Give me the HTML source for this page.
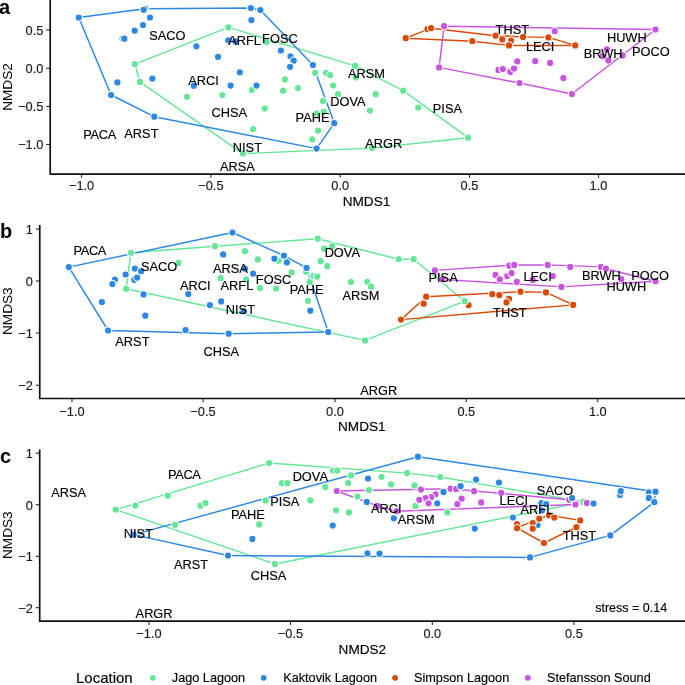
<!DOCTYPE html>
<html><head><meta charset="utf-8"><style>
html,body{margin:0;padding:0;background:#fff;}
svg{display:block;will-change:transform;font-family:"Liberation Sans",sans-serif;font-kerning:normal;text-rendering:optimizeLegibility;}
</style></head><body>
<svg width="685" height="685" viewBox="0 0 685 685">
<rect width="685" height="685" fill="#fff"/>
<line x1="46.2" y1="30.0" x2="50.2" y2="30.0" stroke="#222" stroke-width="1.05"/>
<text x="43.4" y="34.9" font-size="12.8" text-anchor="end" font-weight="normal" fill="#1a1a1a" stroke="#1a1a1a" stroke-width="0.15" >0.5</text>
<line x1="46.2" y1="68.3" x2="50.2" y2="68.3" stroke="#222" stroke-width="1.05"/>
<text x="43.4" y="73.2" font-size="12.8" text-anchor="end" font-weight="normal" fill="#1a1a1a" stroke="#1a1a1a" stroke-width="0.15" >0.0</text>
<line x1="46.2" y1="106.5" x2="50.2" y2="106.5" stroke="#222" stroke-width="1.05"/>
<text x="43.4" y="111.4" font-size="12.8" text-anchor="end" font-weight="normal" fill="#1a1a1a" stroke="#1a1a1a" stroke-width="0.15" >−0.5</text>
<line x1="46.2" y1="144.5" x2="50.2" y2="144.5" stroke="#222" stroke-width="1.05"/>
<text x="43.4" y="149.4" font-size="12.8" text-anchor="end" font-weight="normal" fill="#1a1a1a" stroke="#1a1a1a" stroke-width="0.15" >−1.0</text>
<line x1="81.6" y1="174.15" x2="81.6" y2="177.85" stroke="#222" stroke-width="1.05"/>
<text x="81.6" y="190.3" font-size="12.8" text-anchor="middle" font-weight="normal" fill="#1a1a1a" stroke="#1a1a1a" stroke-width="0.15" >−1.0</text>
<line x1="210.9" y1="174.15" x2="210.9" y2="177.85" stroke="#222" stroke-width="1.05"/>
<text x="210.9" y="190.3" font-size="12.8" text-anchor="middle" font-weight="normal" fill="#1a1a1a" stroke="#1a1a1a" stroke-width="0.15" >−0.5</text>
<line x1="340.2" y1="174.15" x2="340.2" y2="177.85" stroke="#222" stroke-width="1.05"/>
<text x="340.2" y="190.3" font-size="12.8" text-anchor="middle" font-weight="normal" fill="#1a1a1a" stroke="#1a1a1a" stroke-width="0.15" >0.0</text>
<line x1="469.5" y1="174.15" x2="469.5" y2="177.85" stroke="#222" stroke-width="1.05"/>
<text x="469.5" y="190.3" font-size="12.8" text-anchor="middle" font-weight="normal" fill="#1a1a1a" stroke="#1a1a1a" stroke-width="0.15" >0.5</text>
<line x1="598.5" y1="174.15" x2="598.5" y2="177.85" stroke="#222" stroke-width="1.05"/>
<text x="598.5" y="190.3" font-size="12.8" text-anchor="middle" font-weight="normal" fill="#1a1a1a" stroke="#1a1a1a" stroke-width="0.15" >1.0</text>
<path d="M50.2,-1 L50.2,174.15 L686,174.15" fill="none" stroke="#111" stroke-width="1.7" stroke-linejoin="round"/>
<text x="366.5" y="206.0" font-size="13.6" text-anchor="middle" font-weight="normal" fill="#000" stroke="#000" stroke-width="0.15" >NMDS1</text>
<text transform="translate(12.3,87.0) rotate(-90)" font-size="13.6" text-anchor="middle">NMDS2</text>
<text x="-1.0" y="13.7" font-size="20" text-anchor="start" font-weight="bold" fill="#000" >a</text>
<polygon points="134.9,64.2 228.4,27.4 355.0,65.9 403.2,90.7 468.1,137.7 372.0,148.1 242.9,153.6 139.9,81.9" fill="none" stroke="#64e696" stroke-width="1.45" stroke-linejoin="round"/>
<polygon points="78.8,17.5 145.0,8.7 250.9,8.0 260.4,10.0 312.9,65.1 334.3,123.2 316.6,148.6 154.3,116.7 111.1,95.0" fill="none" stroke="#2b87e3" stroke-width="1.45" stroke-linejoin="round"/>
<polygon points="405.7,38.2 431.1,28.2 495.5,35.7 523.1,36.9 548.4,37.4 575.2,45.4 509.0,45.4 472.3,41.2" fill="none" stroke="#d94a06" stroke-width="1.45" stroke-linejoin="round"/>
<polygon points="444.1,26.2 655.5,29.5 571.9,94.0 519.6,83.0 439.1,67.4" fill="none" stroke="#c853e0" stroke-width="1.45" stroke-linejoin="round"/>
<circle cx="134.9" cy="64.2" r="3.65" fill="#64e696" stroke="#fff" stroke-width="1.1"/>
<circle cx="139.9" cy="81.9" r="3.65" fill="#64e696" stroke="#fff" stroke-width="1.1"/>
<circle cx="228.4" cy="27.4" r="3.65" fill="#64e696" stroke="#fff" stroke-width="1.1"/>
<circle cx="266.7" cy="41.9" r="3.65" fill="#64e696" stroke="#fff" stroke-width="1.1"/>
<circle cx="284.9" cy="79.4" r="3.65" fill="#64e696" stroke="#fff" stroke-width="1.1"/>
<circle cx="283.1" cy="90.7" r="3.65" fill="#64e696" stroke="#fff" stroke-width="1.1"/>
<circle cx="298.0" cy="88.1" r="3.65" fill="#64e696" stroke="#fff" stroke-width="1.1"/>
<circle cx="251.8" cy="90.0" r="3.65" fill="#64e696" stroke="#fff" stroke-width="1.1"/>
<circle cx="222.4" cy="95.0" r="3.65" fill="#64e696" stroke="#fff" stroke-width="1.1"/>
<circle cx="187.0" cy="96.8" r="3.65" fill="#64e696" stroke="#fff" stroke-width="1.1"/>
<circle cx="264.8" cy="108.6" r="3.65" fill="#64e696" stroke="#fff" stroke-width="1.1"/>
<circle cx="253.2" cy="129.2" r="3.65" fill="#64e696" stroke="#fff" stroke-width="1.1"/>
<circle cx="315.2" cy="72.8" r="3.65" fill="#64e696" stroke="#fff" stroke-width="1.1"/>
<circle cx="326.1" cy="72.8" r="3.65" fill="#64e696" stroke="#fff" stroke-width="1.1"/>
<circle cx="330.2" cy="75.2" r="3.65" fill="#64e696" stroke="#fff" stroke-width="1.1"/>
<circle cx="355.0" cy="65.9" r="3.65" fill="#64e696" stroke="#fff" stroke-width="1.1"/>
<circle cx="355.9" cy="77.5" r="3.65" fill="#64e696" stroke="#fff" stroke-width="1.1"/>
<circle cx="333.2" cy="85.5" r="3.65" fill="#64e696" stroke="#fff" stroke-width="1.1"/>
<circle cx="338.0" cy="94.0" r="3.65" fill="#64e696" stroke="#fff" stroke-width="1.1"/>
<circle cx="375.7" cy="94.2" r="3.65" fill="#64e696" stroke="#fff" stroke-width="1.1"/>
<circle cx="323.0" cy="101.1" r="3.65" fill="#64e696" stroke="#fff" stroke-width="1.1"/>
<circle cx="370.0" cy="110.6" r="3.65" fill="#64e696" stroke="#fff" stroke-width="1.1"/>
<circle cx="316.8" cy="113.6" r="3.65" fill="#64e696" stroke="#fff" stroke-width="1.1"/>
<circle cx="323.8" cy="111.9" r="3.65" fill="#64e696" stroke="#fff" stroke-width="1.1"/>
<circle cx="318.1" cy="130.6" r="3.65" fill="#64e696" stroke="#fff" stroke-width="1.1"/>
<circle cx="312.3" cy="139.4" r="3.65" fill="#64e696" stroke="#fff" stroke-width="1.1"/>
<circle cx="242.9" cy="153.6" r="3.65" fill="#64e696" stroke="#fff" stroke-width="1.1"/>
<circle cx="403.2" cy="90.7" r="3.65" fill="#64e696" stroke="#fff" stroke-width="1.1"/>
<circle cx="418.2" cy="107.5" r="3.65" fill="#64e696" stroke="#fff" stroke-width="1.1"/>
<circle cx="468.1" cy="137.7" r="3.65" fill="#64e696" stroke="#fff" stroke-width="1.1"/>
<circle cx="372.0" cy="148.1" r="3.65" fill="#64e696" stroke="#fff" stroke-width="1.1"/>
<circle cx="444.1" cy="26.2" r="3.65" fill="#c853e0" stroke="#fff" stroke-width="1.1"/>
<circle cx="439.1" cy="67.4" r="3.65" fill="#c853e0" stroke="#fff" stroke-width="1.1"/>
<circle cx="517.3" cy="61.4" r="3.65" fill="#c853e0" stroke="#fff" stroke-width="1.1"/>
<circle cx="498.5" cy="69.9" r="3.65" fill="#c853e0" stroke="#fff" stroke-width="1.1"/>
<circle cx="502.8" cy="69.1" r="3.65" fill="#c853e0" stroke="#fff" stroke-width="1.1"/>
<circle cx="514.8" cy="67.9" r="3.65" fill="#c853e0" stroke="#fff" stroke-width="1.1"/>
<circle cx="510.3" cy="71.9" r="3.65" fill="#c853e0" stroke="#fff" stroke-width="1.1"/>
<circle cx="519.6" cy="83.0" r="3.65" fill="#c853e0" stroke="#fff" stroke-width="1.1"/>
<circle cx="554.7" cy="31.2" r="3.65" fill="#c853e0" stroke="#fff" stroke-width="1.1"/>
<circle cx="655.5" cy="29.5" r="3.65" fill="#c853e0" stroke="#fff" stroke-width="1.1"/>
<circle cx="606.9" cy="49.4" r="3.65" fill="#c853e0" stroke="#fff" stroke-width="1.1"/>
<circle cx="602.6" cy="56.2" r="3.65" fill="#c853e0" stroke="#fff" stroke-width="1.1"/>
<circle cx="608.4" cy="60.4" r="3.65" fill="#c853e0" stroke="#fff" stroke-width="1.1"/>
<circle cx="622.6" cy="55.4" r="3.65" fill="#c853e0" stroke="#fff" stroke-width="1.1"/>
<circle cx="535.2" cy="61.2" r="3.65" fill="#c853e0" stroke="#fff" stroke-width="1.1"/>
<circle cx="550.2" cy="62.9" r="3.65" fill="#c853e0" stroke="#fff" stroke-width="1.1"/>
<circle cx="514.0" cy="68.6" r="3.65" fill="#c853e0" stroke="#fff" stroke-width="1.1"/>
<circle cx="563.4" cy="78.1" r="3.65" fill="#c853e0" stroke="#fff" stroke-width="1.1"/>
<circle cx="571.9" cy="94.0" r="3.65" fill="#c853e0" stroke="#fff" stroke-width="1.1"/>
<circle cx="78.8" cy="17.5" r="3.65" fill="#2b87e3" stroke="#fff" stroke-width="1.1"/>
<circle cx="145.3" cy="8.6" r="3.65" fill="#2b87e3" stroke="#fff" stroke-width="1.1"/>
<circle cx="143.7" cy="9.8" r="3.65" fill="#2b87e3" stroke="#fff" stroke-width="1.1"/>
<circle cx="150.0" cy="17.5" r="3.65" fill="#2b87e3" stroke="#fff" stroke-width="1.1"/>
<circle cx="143.0" cy="25.1" r="3.65" fill="#2b87e3" stroke="#fff" stroke-width="1.1"/>
<circle cx="134.7" cy="30.7" r="3.65" fill="#2b87e3" stroke="#fff" stroke-width="1.1"/>
<circle cx="122.6" cy="38.5" r="3.65" fill="#2b87e3" stroke="#fff" stroke-width="1.1"/>
<circle cx="124.3" cy="38.7" r="3.65" fill="#2b87e3" stroke="#fff" stroke-width="1.1"/>
<circle cx="117.4" cy="82.4" r="3.65" fill="#2b87e3" stroke="#fff" stroke-width="1.1"/>
<circle cx="152.4" cy="78.6" r="3.65" fill="#2b87e3" stroke="#fff" stroke-width="1.1"/>
<circle cx="196.4" cy="46.3" r="3.65" fill="#2b87e3" stroke="#fff" stroke-width="1.1"/>
<circle cx="218.0" cy="56.8" r="3.65" fill="#2b87e3" stroke="#fff" stroke-width="1.1"/>
<circle cx="228.3" cy="40.3" r="3.65" fill="#2b87e3" stroke="#fff" stroke-width="1.1"/>
<circle cx="235.3" cy="41.4" r="3.65" fill="#2b87e3" stroke="#fff" stroke-width="1.1"/>
<circle cx="239.8" cy="72.3" r="3.65" fill="#2b87e3" stroke="#fff" stroke-width="1.1"/>
<circle cx="193.8" cy="85.7" r="3.65" fill="#2b87e3" stroke="#fff" stroke-width="1.1"/>
<circle cx="230.6" cy="85.6" r="3.65" fill="#2b87e3" stroke="#fff" stroke-width="1.1"/>
<circle cx="256.5" cy="85.6" r="3.65" fill="#2b87e3" stroke="#fff" stroke-width="1.1"/>
<circle cx="250.9" cy="8.0" r="3.65" fill="#2b87e3" stroke="#fff" stroke-width="1.1"/>
<circle cx="260.4" cy="10.0" r="3.65" fill="#2b87e3" stroke="#fff" stroke-width="1.1"/>
<circle cx="251.4" cy="20.2" r="3.65" fill="#2b87e3" stroke="#fff" stroke-width="1.1"/>
<circle cx="280.9" cy="50.5" r="3.65" fill="#2b87e3" stroke="#fff" stroke-width="1.1"/>
<circle cx="290.5" cy="56.3" r="3.65" fill="#2b87e3" stroke="#fff" stroke-width="1.1"/>
<circle cx="293.7" cy="60.7" r="3.65" fill="#2b87e3" stroke="#fff" stroke-width="1.1"/>
<circle cx="290.1" cy="66.8" r="3.65" fill="#2b87e3" stroke="#fff" stroke-width="1.1"/>
<circle cx="312.9" cy="65.1" r="3.65" fill="#2b87e3" stroke="#fff" stroke-width="1.1"/>
<circle cx="334.3" cy="123.2" r="3.65" fill="#2b87e3" stroke="#fff" stroke-width="1.1"/>
<circle cx="316.6" cy="148.6" r="3.65" fill="#2b87e3" stroke="#fff" stroke-width="1.1"/>
<circle cx="154.3" cy="116.7" r="3.65" fill="#2b87e3" stroke="#fff" stroke-width="1.1"/>
<circle cx="111.1" cy="95.0" r="3.65" fill="#2b87e3" stroke="#fff" stroke-width="1.1"/>
<circle cx="405.7" cy="38.2" r="3.65" fill="#d94a06" stroke="#fff" stroke-width="1.1"/>
<circle cx="427.4" cy="29.2" r="3.65" fill="#d94a06" stroke="#fff" stroke-width="1.1"/>
<circle cx="431.1" cy="28.2" r="3.65" fill="#d94a06" stroke="#fff" stroke-width="1.1"/>
<circle cx="472.3" cy="41.2" r="3.65" fill="#d94a06" stroke="#fff" stroke-width="1.1"/>
<circle cx="495.5" cy="35.7" r="3.65" fill="#d94a06" stroke="#fff" stroke-width="1.1"/>
<circle cx="502.3" cy="39.4" r="3.65" fill="#d94a06" stroke="#fff" stroke-width="1.1"/>
<circle cx="511.0" cy="40.7" r="3.65" fill="#d94a06" stroke="#fff" stroke-width="1.1"/>
<circle cx="509.0" cy="45.4" r="3.65" fill="#d94a06" stroke="#fff" stroke-width="1.1"/>
<circle cx="523.1" cy="36.9" r="3.65" fill="#d94a06" stroke="#fff" stroke-width="1.1"/>
<circle cx="548.4" cy="37.4" r="3.65" fill="#d94a06" stroke="#fff" stroke-width="1.1"/>
<circle cx="575.2" cy="45.4" r="3.65" fill="#d94a06" stroke="#fff" stroke-width="1.1"/>
<text x="167.4" y="39.9" font-size="12.8" text-anchor="middle" font-weight="normal" fill="#000" stroke="#000" stroke-width="0.15" >SACO</text>
<text x="244.5" y="44.5" font-size="12.8" text-anchor="middle" font-weight="normal" fill="#000" stroke="#000" stroke-width="0.15" >ARFL</text>
<text x="279.9" y="43.1" font-size="12.8" text-anchor="middle" font-weight="normal" fill="#000" stroke="#000" stroke-width="0.15" >FOSC</text>
<text x="203.6" y="85.3" font-size="12.8" text-anchor="middle" font-weight="normal" fill="#000" stroke="#000" stroke-width="0.15" >ARCI</text>
<text x="366.4" y="77.7" font-size="12.8" text-anchor="middle" font-weight="normal" fill="#000" stroke="#000" stroke-width="0.15" >ARSM</text>
<text x="229.2" y="116.9" font-size="12.8" text-anchor="middle" font-weight="normal" fill="#000" stroke="#000" stroke-width="0.15" >CHSA</text>
<text x="348.0" y="106.1" font-size="12.8" text-anchor="middle" font-weight="normal" fill="#000" stroke="#000" stroke-width="0.15" >DOVA</text>
<text x="447.4" y="113.1" font-size="12.8" text-anchor="middle" font-weight="normal" fill="#000" stroke="#000" stroke-width="0.15" >PISA</text>
<text x="312.5" y="122.1" font-size="12.8" text-anchor="middle" font-weight="normal" fill="#000" stroke="#000" stroke-width="0.15" >PAHE</text>
<text x="99.6" y="139.1" font-size="12.8" text-anchor="middle" font-weight="normal" fill="#000" stroke="#000" stroke-width="0.15" letter-spacing="-0.35">PACA</text>
<text x="141.4" y="137.9" font-size="12.8" text-anchor="middle" font-weight="normal" fill="#000" stroke="#000" stroke-width="0.15" >ARST</text>
<text x="247.4" y="151.8" font-size="12.8" text-anchor="middle" font-weight="normal" fill="#000" stroke="#000" stroke-width="0.15" >NIST</text>
<text x="383.7" y="148.1" font-size="12.8" text-anchor="middle" font-weight="normal" fill="#000" stroke="#000" stroke-width="0.15" >ARGR</text>
<text x="237.4" y="171.3" font-size="12.8" text-anchor="middle" font-weight="normal" fill="#000" stroke="#000" stroke-width="0.15" >ARSA</text>
<text x="512.3" y="33.6" font-size="12.8" text-anchor="middle" font-weight="normal" fill="#000" stroke="#000" stroke-width="0.15" >THST</text>
<text x="540.2" y="51.1" font-size="12.8" text-anchor="middle" font-weight="normal" fill="#000" stroke="#000" stroke-width="0.15" >LECI</text>
<text x="626.8" y="42.3" font-size="12.8" text-anchor="middle" font-weight="normal" fill="#000" stroke="#000" stroke-width="0.15" >HUWH</text>
<text x="603.1" y="58.1" font-size="12.8" text-anchor="middle" font-weight="normal" fill="#000" stroke="#000" stroke-width="0.15" >BRWH</text>
<text x="650.8" y="56.1" font-size="12.8" text-anchor="middle" font-weight="normal" fill="#000" stroke="#000" stroke-width="0.15" >POCO</text>
<line x1="35.75" y1="229.0" x2="39.75" y2="229.0" stroke="#222" stroke-width="1.05"/>
<text x="32.95" y="233.9" font-size="12.8" text-anchor="end" font-weight="normal" fill="#1a1a1a" stroke="#1a1a1a" stroke-width="0.15" >1</text>
<line x1="35.75" y1="281.0" x2="39.75" y2="281.0" stroke="#222" stroke-width="1.05"/>
<text x="32.95" y="285.9" font-size="12.8" text-anchor="end" font-weight="normal" fill="#1a1a1a" stroke="#1a1a1a" stroke-width="0.15" >0</text>
<line x1="35.75" y1="333.0" x2="39.75" y2="333.0" stroke="#222" stroke-width="1.05"/>
<text x="32.95" y="337.9" font-size="12.8" text-anchor="end" font-weight="normal" fill="#1a1a1a" stroke="#1a1a1a" stroke-width="0.15" >−1</text>
<line x1="35.75" y1="385.3" x2="39.75" y2="385.3" stroke="#222" stroke-width="1.05"/>
<text x="32.95" y="390.2" font-size="12.8" text-anchor="end" font-weight="normal" fill="#1a1a1a" stroke="#1a1a1a" stroke-width="0.15" >−2</text>
<line x1="72.0" y1="398.5" x2="72.0" y2="402.2" stroke="#222" stroke-width="1.05"/>
<text x="72.0" y="415.5" font-size="12.8" text-anchor="middle" font-weight="normal" fill="#1a1a1a" stroke="#1a1a1a" stroke-width="0.15" >−1.0</text>
<line x1="203.0" y1="398.5" x2="203.0" y2="402.2" stroke="#222" stroke-width="1.05"/>
<text x="203.0" y="415.5" font-size="12.8" text-anchor="middle" font-weight="normal" fill="#1a1a1a" stroke="#1a1a1a" stroke-width="0.15" >−0.5</text>
<line x1="335.0" y1="398.5" x2="335.0" y2="402.2" stroke="#222" stroke-width="1.05"/>
<text x="335.0" y="415.5" font-size="12.8" text-anchor="middle" font-weight="normal" fill="#1a1a1a" stroke="#1a1a1a" stroke-width="0.15" >0.0</text>
<line x1="466.3" y1="398.5" x2="466.3" y2="402.2" stroke="#222" stroke-width="1.05"/>
<text x="466.3" y="415.5" font-size="12.8" text-anchor="middle" font-weight="normal" fill="#1a1a1a" stroke="#1a1a1a" stroke-width="0.15" >0.5</text>
<line x1="597.8" y1="398.5" x2="597.8" y2="402.2" stroke="#222" stroke-width="1.05"/>
<text x="597.8" y="415.5" font-size="12.8" text-anchor="middle" font-weight="normal" fill="#1a1a1a" stroke="#1a1a1a" stroke-width="0.15" >1.0</text>
<path d="M39.75,225.0 L39.75,398.5 L686,398.5" fill="none" stroke="#111" stroke-width="1.7" stroke-linejoin="round"/>
<text x="361.8" y="430.9" font-size="13.6" text-anchor="middle" font-weight="normal" fill="#000" stroke="#000" stroke-width="0.15" >NMDS1</text>
<text transform="translate(12.3,311.2) rotate(-90)" font-size="13.6" text-anchor="middle">NMDS3</text>
<text x="0" y="238.1" font-size="20" text-anchor="start" font-weight="bold" fill="#000" >b</text>
<polygon points="131.0,252.8 215.0,246.2 317.8,238.7 398.7,259.2 413.7,259.2 464.8,301.2 365.0,340.4 126.1,288.8" fill="none" stroke="#64e696" stroke-width="1.45" stroke-linejoin="round"/>
<polygon points="68.8,267.1 232.5,232.5 283.9,255.7 306.6,267.9 328.2,332.0 228.7,333.7 108.1,330.5" fill="none" stroke="#2b87e3" stroke-width="1.45" stroke-linejoin="round"/>
<polygon points="401.0,319.6 426.2,296.7 520.5,291.7 546.0,292.4 573.2,304.9" fill="none" stroke="#d94a06" stroke-width="1.45" stroke-linejoin="round"/>
<polygon points="434.9,270.4 514.3,264.9 547.7,264.9 600.9,266.9 605.9,268.7 655.5,281.2 561.4,286.9 442.4,279.4" fill="none" stroke="#c853e0" stroke-width="1.45" stroke-linejoin="round"/>
<circle cx="131.0" cy="252.8" r="3.65" fill="#64e696" stroke="#fff" stroke-width="1.1"/>
<circle cx="126.1" cy="288.8" r="3.65" fill="#64e696" stroke="#fff" stroke-width="1.1"/>
<circle cx="178.5" cy="262.9" r="3.65" fill="#64e696" stroke="#fff" stroke-width="1.1"/>
<circle cx="215.0" cy="246.2" r="3.65" fill="#64e696" stroke="#fff" stroke-width="1.1"/>
<circle cx="244.9" cy="251.2" r="3.65" fill="#64e696" stroke="#fff" stroke-width="1.1"/>
<circle cx="257.9" cy="259.4" r="3.65" fill="#64e696" stroke="#fff" stroke-width="1.1"/>
<circle cx="278.6" cy="260.7" r="3.65" fill="#64e696" stroke="#fff" stroke-width="1.1"/>
<circle cx="317.8" cy="238.7" r="3.65" fill="#64e696" stroke="#fff" stroke-width="1.1"/>
<circle cx="324.1" cy="248.7" r="3.65" fill="#64e696" stroke="#fff" stroke-width="1.1"/>
<circle cx="332.3" cy="246.2" r="3.65" fill="#64e696" stroke="#fff" stroke-width="1.1"/>
<circle cx="320.6" cy="261.2" r="3.65" fill="#64e696" stroke="#fff" stroke-width="1.1"/>
<circle cx="327.3" cy="266.2" r="3.65" fill="#64e696" stroke="#fff" stroke-width="1.1"/>
<circle cx="291.6" cy="272.4" r="3.65" fill="#64e696" stroke="#fff" stroke-width="1.1"/>
<circle cx="306.1" cy="271.7" r="3.65" fill="#64e696" stroke="#fff" stroke-width="1.1"/>
<circle cx="220.7" cy="278.2" r="3.65" fill="#64e696" stroke="#fff" stroke-width="1.1"/>
<circle cx="246.2" cy="279.4" r="3.65" fill="#64e696" stroke="#fff" stroke-width="1.1"/>
<circle cx="259.9" cy="288.1" r="3.65" fill="#64e696" stroke="#fff" stroke-width="1.1"/>
<circle cx="276.1" cy="288.6" r="3.65" fill="#64e696" stroke="#fff" stroke-width="1.1"/>
<circle cx="309.8" cy="281.9" r="3.65" fill="#64e696" stroke="#fff" stroke-width="1.1"/>
<circle cx="313.6" cy="276.2" r="3.65" fill="#64e696" stroke="#fff" stroke-width="1.1"/>
<circle cx="317.3" cy="276.7" r="3.65" fill="#64e696" stroke="#fff" stroke-width="1.1"/>
<circle cx="351.0" cy="282.0" r="3.65" fill="#64e696" stroke="#fff" stroke-width="1.1"/>
<circle cx="367.3" cy="281.8" r="3.65" fill="#64e696" stroke="#fff" stroke-width="1.1"/>
<circle cx="371.1" cy="286.7" r="3.65" fill="#64e696" stroke="#fff" stroke-width="1.1"/>
<circle cx="308.1" cy="300.8" r="3.65" fill="#64e696" stroke="#fff" stroke-width="1.1"/>
<circle cx="398.7" cy="259.2" r="3.65" fill="#64e696" stroke="#fff" stroke-width="1.1"/>
<circle cx="413.7" cy="259.2" r="3.65" fill="#64e696" stroke="#fff" stroke-width="1.1"/>
<circle cx="464.8" cy="301.2" r="3.65" fill="#64e696" stroke="#fff" stroke-width="1.1"/>
<circle cx="365.0" cy="340.4" r="3.65" fill="#64e696" stroke="#fff" stroke-width="1.1"/>
<circle cx="434.9" cy="270.4" r="3.65" fill="#c853e0" stroke="#fff" stroke-width="1.1"/>
<circle cx="442.4" cy="279.4" r="3.65" fill="#c853e0" stroke="#fff" stroke-width="1.1"/>
<circle cx="509.3" cy="265.7" r="3.65" fill="#c853e0" stroke="#fff" stroke-width="1.1"/>
<circle cx="514.3" cy="264.9" r="3.65" fill="#c853e0" stroke="#fff" stroke-width="1.1"/>
<circle cx="495.5" cy="274.9" r="3.65" fill="#c853e0" stroke="#fff" stroke-width="1.1"/>
<circle cx="499.8" cy="279.4" r="3.65" fill="#c853e0" stroke="#fff" stroke-width="1.1"/>
<circle cx="507.3" cy="276.2" r="3.65" fill="#c853e0" stroke="#fff" stroke-width="1.1"/>
<circle cx="511.5" cy="273.2" r="3.65" fill="#c853e0" stroke="#fff" stroke-width="1.1"/>
<circle cx="516.8" cy="281.9" r="3.65" fill="#c853e0" stroke="#fff" stroke-width="1.1"/>
<circle cx="547.7" cy="264.9" r="3.65" fill="#c853e0" stroke="#fff" stroke-width="1.1"/>
<circle cx="570.2" cy="266.9" r="3.65" fill="#c853e0" stroke="#fff" stroke-width="1.1"/>
<circle cx="600.9" cy="266.9" r="3.65" fill="#c853e0" stroke="#fff" stroke-width="1.1"/>
<circle cx="605.9" cy="268.7" r="3.65" fill="#c853e0" stroke="#fff" stroke-width="1.1"/>
<circle cx="552.7" cy="276.2" r="3.65" fill="#c853e0" stroke="#fff" stroke-width="1.1"/>
<circle cx="532.7" cy="279.9" r="3.65" fill="#c853e0" stroke="#fff" stroke-width="1.1"/>
<circle cx="621.3" cy="279.2" r="3.65" fill="#c853e0" stroke="#fff" stroke-width="1.1"/>
<circle cx="655.5" cy="281.2" r="3.65" fill="#c853e0" stroke="#fff" stroke-width="1.1"/>
<circle cx="561.4" cy="286.9" r="3.65" fill="#c853e0" stroke="#fff" stroke-width="1.1"/>
<circle cx="68.8" cy="267.1" r="3.65" fill="#2b87e3" stroke="#fff" stroke-width="1.1"/>
<circle cx="134.9" cy="268.6" r="3.65" fill="#2b87e3" stroke="#fff" stroke-width="1.1"/>
<circle cx="141.1" cy="271.2" r="3.65" fill="#2b87e3" stroke="#fff" stroke-width="1.1"/>
<circle cx="125.6" cy="274.5" r="3.65" fill="#2b87e3" stroke="#fff" stroke-width="1.1"/>
<circle cx="114.9" cy="279.6" r="3.65" fill="#2b87e3" stroke="#fff" stroke-width="1.1"/>
<circle cx="112.4" cy="284.0" r="3.65" fill="#2b87e3" stroke="#fff" stroke-width="1.1"/>
<circle cx="134.3" cy="279.8" r="3.65" fill="#2b87e3" stroke="#fff" stroke-width="1.1"/>
<circle cx="137.1" cy="277.6" r="3.65" fill="#2b87e3" stroke="#fff" stroke-width="1.1"/>
<circle cx="143.6" cy="294.4" r="3.65" fill="#2b87e3" stroke="#fff" stroke-width="1.1"/>
<circle cx="188.3" cy="294.1" r="3.65" fill="#2b87e3" stroke="#fff" stroke-width="1.1"/>
<circle cx="101.9" cy="302.0" r="3.65" fill="#2b87e3" stroke="#fff" stroke-width="1.1"/>
<circle cx="145.3" cy="315.7" r="3.65" fill="#2b87e3" stroke="#fff" stroke-width="1.1"/>
<circle cx="108.1" cy="330.5" r="3.65" fill="#2b87e3" stroke="#fff" stroke-width="1.1"/>
<circle cx="185.5" cy="330.0" r="3.65" fill="#2b87e3" stroke="#fff" stroke-width="1.1"/>
<circle cx="209.9" cy="305.0" r="3.65" fill="#2b87e3" stroke="#fff" stroke-width="1.1"/>
<circle cx="221.2" cy="301.4" r="3.65" fill="#2b87e3" stroke="#fff" stroke-width="1.1"/>
<circle cx="232.5" cy="232.5" r="3.65" fill="#2b87e3" stroke="#fff" stroke-width="1.1"/>
<circle cx="223.2" cy="254.4" r="3.65" fill="#2b87e3" stroke="#fff" stroke-width="1.1"/>
<circle cx="274.4" cy="258.7" r="3.65" fill="#2b87e3" stroke="#fff" stroke-width="1.1"/>
<circle cx="283.9" cy="255.7" r="3.65" fill="#2b87e3" stroke="#fff" stroke-width="1.1"/>
<circle cx="286.9" cy="262.4" r="3.65" fill="#2b87e3" stroke="#fff" stroke-width="1.1"/>
<circle cx="306.6" cy="267.9" r="3.65" fill="#2b87e3" stroke="#fff" stroke-width="1.1"/>
<circle cx="253.2" cy="273.7" r="3.65" fill="#2b87e3" stroke="#fff" stroke-width="1.1"/>
<circle cx="244.9" cy="268.7" r="3.65" fill="#2b87e3" stroke="#fff" stroke-width="1.1"/>
<circle cx="243.7" cy="311.2" r="3.65" fill="#2b87e3" stroke="#fff" stroke-width="1.1"/>
<circle cx="310.3" cy="310.7" r="3.65" fill="#2b87e3" stroke="#fff" stroke-width="1.1"/>
<circle cx="328.2" cy="332.0" r="3.65" fill="#2b87e3" stroke="#fff" stroke-width="1.1"/>
<circle cx="228.7" cy="333.7" r="3.65" fill="#2b87e3" stroke="#fff" stroke-width="1.1"/>
<circle cx="401.0" cy="319.6" r="3.65" fill="#d94a06" stroke="#fff" stroke-width="1.1"/>
<circle cx="426.2" cy="296.7" r="3.65" fill="#d94a06" stroke="#fff" stroke-width="1.1"/>
<circle cx="423.7" cy="303.7" r="3.65" fill="#d94a06" stroke="#fff" stroke-width="1.1"/>
<circle cx="468.6" cy="305.2" r="3.65" fill="#d94a06" stroke="#fff" stroke-width="1.1"/>
<circle cx="492.3" cy="294.2" r="3.65" fill="#d94a06" stroke="#fff" stroke-width="1.1"/>
<circle cx="499.3" cy="295.2" r="3.65" fill="#d94a06" stroke="#fff" stroke-width="1.1"/>
<circle cx="520.5" cy="291.7" r="3.65" fill="#d94a06" stroke="#fff" stroke-width="1.1"/>
<circle cx="509.0" cy="298.9" r="3.65" fill="#d94a06" stroke="#fff" stroke-width="1.1"/>
<circle cx="506.5" cy="302.4" r="3.65" fill="#d94a06" stroke="#fff" stroke-width="1.1"/>
<circle cx="546.0" cy="292.4" r="3.65" fill="#d94a06" stroke="#fff" stroke-width="1.1"/>
<circle cx="573.2" cy="304.9" r="3.65" fill="#d94a06" stroke="#fff" stroke-width="1.1"/>
<circle cx="464.8" cy="301.2" r="3.65" fill="#64e696" stroke="#fff" stroke-width="1.1"/>
<text x="89.8" y="254.6" font-size="12.8" text-anchor="middle" font-weight="normal" fill="#000" stroke="#000" stroke-width="0.15" letter-spacing="-0.35">PACA</text>
<text x="159.1" y="270.6" font-size="12.8" text-anchor="middle" font-weight="normal" fill="#000" stroke="#000" stroke-width="0.15" >SACO</text>
<text x="195.3" y="289.8" font-size="12.8" text-anchor="middle" font-weight="normal" fill="#000" stroke="#000" stroke-width="0.15" >ARCI</text>
<text x="230.5" y="273.1" font-size="12.8" text-anchor="middle" font-weight="normal" fill="#000" stroke="#000" stroke-width="0.15" >ARSA</text>
<text x="236.9" y="289.8" font-size="12.8" text-anchor="middle" font-weight="normal" fill="#000" stroke="#000" stroke-width="0.15" >ARFL</text>
<text x="273.6" y="283.8" font-size="12.8" text-anchor="middle" font-weight="normal" fill="#000" stroke="#000" stroke-width="0.15" >FOSC</text>
<text x="306.6" y="294.3" font-size="12.8" text-anchor="middle" font-weight="normal" fill="#000" stroke="#000" stroke-width="0.15" >PAHE</text>
<text x="342.3" y="256.9" font-size="12.8" text-anchor="middle" font-weight="normal" fill="#000" stroke="#000" stroke-width="0.15" >DOVA</text>
<text x="240.4" y="313.9" font-size="12.8" text-anchor="middle" font-weight="normal" fill="#000" stroke="#000" stroke-width="0.15" >NIST</text>
<text x="361.0" y="300.1" font-size="12.8" text-anchor="middle" font-weight="normal" fill="#000" stroke="#000" stroke-width="0.15" >ARSM</text>
<text x="132.4" y="345.6" font-size="12.8" text-anchor="middle" font-weight="normal" fill="#000" stroke="#000" stroke-width="0.15" >ARST</text>
<text x="221.2" y="356.3" font-size="12.8" text-anchor="middle" font-weight="normal" fill="#000" stroke="#000" stroke-width="0.15" >CHSA</text>
<text x="378.7" y="395.4" font-size="12.8" text-anchor="middle" font-weight="normal" fill="#000" stroke="#000" stroke-width="0.15" >ARGR</text>
<text x="443.1" y="281.8" font-size="12.8" text-anchor="middle" font-weight="normal" fill="#000" stroke="#000" stroke-width="0.15" >PISA</text>
<text x="537.7" y="281.3" font-size="12.8" text-anchor="middle" font-weight="normal" fill="#000" stroke="#000" stroke-width="0.15" >LECI</text>
<text x="601.4" y="279.8" font-size="12.8" text-anchor="middle" font-weight="normal" fill="#000" stroke="#000" stroke-width="0.15" >BRWH</text>
<text x="650.0" y="279.8" font-size="12.8" text-anchor="middle" font-weight="normal" fill="#000" stroke="#000" stroke-width="0.15" >POCO</text>
<text x="626.3" y="291.3" font-size="12.8" text-anchor="middle" font-weight="normal" fill="#000" stroke="#000" stroke-width="0.15" >HUWH</text>
<text x="509.8" y="316.9" font-size="12.8" text-anchor="middle" font-weight="normal" fill="#000" stroke="#000" stroke-width="0.15" >THST</text>
<line x1="35.7" y1="453.1" x2="39.7" y2="453.1" stroke="#222" stroke-width="1.05"/>
<text x="32.9" y="458.0" font-size="12.8" text-anchor="end" font-weight="normal" fill="#1a1a1a" stroke="#1a1a1a" stroke-width="0.15" >1</text>
<line x1="35.7" y1="504.7" x2="39.7" y2="504.7" stroke="#222" stroke-width="1.05"/>
<text x="32.9" y="509.6" font-size="12.8" text-anchor="end" font-weight="normal" fill="#1a1a1a" stroke="#1a1a1a" stroke-width="0.15" >0</text>
<line x1="35.7" y1="556.3" x2="39.7" y2="556.3" stroke="#222" stroke-width="1.05"/>
<text x="32.9" y="561.2" font-size="12.8" text-anchor="end" font-weight="normal" fill="#1a1a1a" stroke="#1a1a1a" stroke-width="0.15" >−1</text>
<line x1="35.7" y1="607.7" x2="39.7" y2="607.7" stroke="#222" stroke-width="1.05"/>
<text x="32.9" y="612.6" font-size="12.8" text-anchor="end" font-weight="normal" fill="#1a1a1a" stroke="#1a1a1a" stroke-width="0.15" >−2</text>
<line x1="149.0" y1="621.2" x2="149.0" y2="624.9" stroke="#222" stroke-width="1.05"/>
<text x="149.0" y="637.8" font-size="12.8" text-anchor="middle" font-weight="normal" fill="#1a1a1a" stroke="#1a1a1a" stroke-width="0.15" >−1.0</text>
<line x1="290.5" y1="621.2" x2="290.5" y2="624.9" stroke="#222" stroke-width="1.05"/>
<text x="290.5" y="637.8" font-size="12.8" text-anchor="middle" font-weight="normal" fill="#1a1a1a" stroke="#1a1a1a" stroke-width="0.15" >−0.5</text>
<line x1="432.3" y1="621.2" x2="432.3" y2="624.9" stroke="#222" stroke-width="1.05"/>
<text x="432.3" y="637.8" font-size="12.8" text-anchor="middle" font-weight="normal" fill="#1a1a1a" stroke="#1a1a1a" stroke-width="0.15" >0.0</text>
<line x1="573.9" y1="621.2" x2="573.9" y2="624.9" stroke="#222" stroke-width="1.05"/>
<text x="573.9" y="637.8" font-size="12.8" text-anchor="middle" font-weight="normal" fill="#1a1a1a" stroke="#1a1a1a" stroke-width="0.15" >0.5</text>
<path d="M39.7,449.5 L39.7,621.2 L686,621.2" fill="none" stroke="#111" stroke-width="1.7" stroke-linejoin="round"/>
<text x="362.4" y="653.8" font-size="13.6" text-anchor="middle" font-weight="normal" fill="#000" stroke="#000" stroke-width="0.15" >NMDS2</text>
<text transform="translate(12.3,535.2) rotate(-90)" font-size="13.6" text-anchor="middle">NMDS3</text>
<text x="0" y="462.6" font-size="20" text-anchor="start" font-weight="bold" fill="#000" >c</text>
<polygon points="115.7,509.6 269.1,463.0 407.0,473.1 440.2,477.0 583.4,501.9 274.9,564.0" fill="none" stroke="#64e696" stroke-width="1.45" stroke-linejoin="round"/>
<polygon points="133.6,534.6 417.9,456.7 655.5,491.7 654.3,502.2 610.3,535.4 530.0,557.4 228.0,555.5" fill="none" stroke="#2b87e3" stroke-width="1.45" stroke-linejoin="round"/>
<polygon points="517.0,527.9 539.3,518.7 549.0,515.3 580.2,520.4 576.4,527.2 544.0,543.0" fill="none" stroke="#d94a06" stroke-width="1.45" stroke-linejoin="round"/>
<polygon points="336.7,491.0 450.6,488.7 569.3,499.8 586.9,502.9 575.5,504.5 396.6,511.2 377.3,505.9" fill="none" stroke="#c853e0" stroke-width="1.45" stroke-linejoin="round"/>
<circle cx="115.7" cy="509.6" r="3.65" fill="#64e696" stroke="#fff" stroke-width="1.1"/>
<circle cx="135.4" cy="505.6" r="3.65" fill="#64e696" stroke="#fff" stroke-width="1.1"/>
<circle cx="167.8" cy="495.7" r="3.65" fill="#64e696" stroke="#fff" stroke-width="1.1"/>
<circle cx="200.5" cy="505.7" r="3.65" fill="#64e696" stroke="#fff" stroke-width="1.1"/>
<circle cx="205.5" cy="503.2" r="3.65" fill="#64e696" stroke="#fff" stroke-width="1.1"/>
<circle cx="175.0" cy="524.8" r="3.65" fill="#64e696" stroke="#fff" stroke-width="1.1"/>
<circle cx="269.1" cy="463.0" r="3.65" fill="#64e696" stroke="#fff" stroke-width="1.1"/>
<circle cx="333.0" cy="470.5" r="3.65" fill="#64e696" stroke="#fff" stroke-width="1.1"/>
<circle cx="337.3" cy="470.5" r="3.65" fill="#64e696" stroke="#fff" stroke-width="1.1"/>
<circle cx="351.0" cy="475.4" r="3.65" fill="#64e696" stroke="#fff" stroke-width="1.1"/>
<circle cx="281.9" cy="483.2" r="3.65" fill="#64e696" stroke="#fff" stroke-width="1.1"/>
<circle cx="287.4" cy="483.2" r="3.65" fill="#64e696" stroke="#fff" stroke-width="1.1"/>
<circle cx="348.2" cy="483.1" r="3.65" fill="#64e696" stroke="#fff" stroke-width="1.1"/>
<circle cx="325.3" cy="486.9" r="3.65" fill="#64e696" stroke="#fff" stroke-width="1.1"/>
<circle cx="369.0" cy="490.0" r="3.65" fill="#64e696" stroke="#fff" stroke-width="1.1"/>
<circle cx="357.4" cy="496.6" r="3.65" fill="#64e696" stroke="#fff" stroke-width="1.1"/>
<circle cx="265.7" cy="500.4" r="3.65" fill="#64e696" stroke="#fff" stroke-width="1.1"/>
<circle cx="310.3" cy="500.4" r="3.65" fill="#64e696" stroke="#fff" stroke-width="1.1"/>
<circle cx="336.1" cy="510.3" r="3.65" fill="#64e696" stroke="#fff" stroke-width="1.1"/>
<circle cx="349.0" cy="512.4" r="3.65" fill="#64e696" stroke="#fff" stroke-width="1.1"/>
<circle cx="259.2" cy="524.4" r="3.65" fill="#64e696" stroke="#fff" stroke-width="1.1"/>
<circle cx="274.9" cy="564.0" r="3.65" fill="#64e696" stroke="#fff" stroke-width="1.1"/>
<circle cx="381.5" cy="476.8" r="3.65" fill="#64e696" stroke="#fff" stroke-width="1.1"/>
<circle cx="407.0" cy="473.1" r="3.65" fill="#64e696" stroke="#fff" stroke-width="1.1"/>
<circle cx="440.2" cy="477.0" r="3.65" fill="#64e696" stroke="#fff" stroke-width="1.1"/>
<circle cx="391.1" cy="484.4" r="3.65" fill="#64e696" stroke="#fff" stroke-width="1.1"/>
<circle cx="414.4" cy="485.4" r="3.65" fill="#64e696" stroke="#fff" stroke-width="1.1"/>
<circle cx="415.4" cy="506.2" r="3.65" fill="#64e696" stroke="#fff" stroke-width="1.1"/>
<circle cx="447.4" cy="512.4" r="3.65" fill="#64e696" stroke="#fff" stroke-width="1.1"/>
<circle cx="583.4" cy="501.9" r="3.65" fill="#64e696" stroke="#fff" stroke-width="1.1"/>
<circle cx="336.7" cy="491.0" r="3.65" fill="#c853e0" stroke="#fff" stroke-width="1.1"/>
<circle cx="420.9" cy="489.6" r="3.65" fill="#c853e0" stroke="#fff" stroke-width="1.1"/>
<circle cx="450.6" cy="488.7" r="3.65" fill="#c853e0" stroke="#fff" stroke-width="1.1"/>
<circle cx="456.1" cy="489.2" r="3.65" fill="#c853e0" stroke="#fff" stroke-width="1.1"/>
<circle cx="474.1" cy="491.2" r="3.65" fill="#c853e0" stroke="#fff" stroke-width="1.1"/>
<circle cx="501.2" cy="492.8" r="3.65" fill="#c853e0" stroke="#fff" stroke-width="1.1"/>
<circle cx="435.6" cy="494.3" r="3.65" fill="#c853e0" stroke="#fff" stroke-width="1.1"/>
<circle cx="431.1" cy="497.2" r="3.65" fill="#c853e0" stroke="#fff" stroke-width="1.1"/>
<circle cx="425.5" cy="498.0" r="3.65" fill="#c853e0" stroke="#fff" stroke-width="1.1"/>
<circle cx="419.3" cy="499.8" r="3.65" fill="#c853e0" stroke="#fff" stroke-width="1.1"/>
<circle cx="428.6" cy="503.3" r="3.65" fill="#c853e0" stroke="#fff" stroke-width="1.1"/>
<circle cx="461.6" cy="498.7" r="3.65" fill="#c853e0" stroke="#fff" stroke-width="1.1"/>
<circle cx="457.4" cy="504.2" r="3.65" fill="#c853e0" stroke="#fff" stroke-width="1.1"/>
<circle cx="481.2" cy="502.4" r="3.65" fill="#c853e0" stroke="#fff" stroke-width="1.1"/>
<circle cx="377.3" cy="505.9" r="3.65" fill="#c853e0" stroke="#fff" stroke-width="1.1"/>
<circle cx="396.6" cy="511.2" r="3.65" fill="#c853e0" stroke="#fff" stroke-width="1.1"/>
<circle cx="569.3" cy="499.8" r="3.65" fill="#c853e0" stroke="#fff" stroke-width="1.1"/>
<circle cx="575.5" cy="504.5" r="3.65" fill="#c853e0" stroke="#fff" stroke-width="1.1"/>
<circle cx="586.9" cy="502.9" r="3.65" fill="#c853e0" stroke="#fff" stroke-width="1.1"/>
<circle cx="133.6" cy="534.6" r="3.65" fill="#2b87e3" stroke="#fff" stroke-width="1.1"/>
<circle cx="252.4" cy="538.9" r="3.65" fill="#2b87e3" stroke="#fff" stroke-width="1.1"/>
<circle cx="228.0" cy="555.5" r="3.65" fill="#2b87e3" stroke="#fff" stroke-width="1.1"/>
<circle cx="367.5" cy="553.4" r="3.65" fill="#2b87e3" stroke="#fff" stroke-width="1.1"/>
<circle cx="379.5" cy="553.7" r="3.65" fill="#2b87e3" stroke="#fff" stroke-width="1.1"/>
<circle cx="417.9" cy="456.7" r="3.65" fill="#2b87e3" stroke="#fff" stroke-width="1.1"/>
<circle cx="368.0" cy="478.5" r="3.65" fill="#2b87e3" stroke="#fff" stroke-width="1.1"/>
<circle cx="366.8" cy="501.9" r="3.65" fill="#2b87e3" stroke="#fff" stroke-width="1.1"/>
<circle cx="332.7" cy="525.5" r="3.65" fill="#2b87e3" stroke="#fff" stroke-width="1.1"/>
<circle cx="476.1" cy="479.5" r="3.65" fill="#2b87e3" stroke="#fff" stroke-width="1.1"/>
<circle cx="499.0" cy="482.5" r="3.65" fill="#2b87e3" stroke="#fff" stroke-width="1.1"/>
<circle cx="460.6" cy="486.2" r="3.65" fill="#2b87e3" stroke="#fff" stroke-width="1.1"/>
<circle cx="443.5" cy="491.9" r="3.65" fill="#2b87e3" stroke="#fff" stroke-width="1.1"/>
<circle cx="437.3" cy="503.3" r="3.65" fill="#2b87e3" stroke="#fff" stroke-width="1.1"/>
<circle cx="393.8" cy="518.3" r="3.65" fill="#2b87e3" stroke="#fff" stroke-width="1.1"/>
<circle cx="474.8" cy="528.6" r="3.65" fill="#2b87e3" stroke="#fff" stroke-width="1.1"/>
<circle cx="513.0" cy="517.5" r="3.65" fill="#2b87e3" stroke="#fff" stroke-width="1.1"/>
<circle cx="620.1" cy="494.9" r="3.65" fill="#2b87e3" stroke="#fff" stroke-width="1.1"/>
<circle cx="620.8" cy="491.2" r="3.65" fill="#2b87e3" stroke="#fff" stroke-width="1.1"/>
<circle cx="648.8" cy="492.4" r="3.65" fill="#2b87e3" stroke="#fff" stroke-width="1.1"/>
<circle cx="655.5" cy="491.7" r="3.65" fill="#2b87e3" stroke="#fff" stroke-width="1.1"/>
<circle cx="648.8" cy="497.9" r="3.65" fill="#2b87e3" stroke="#fff" stroke-width="1.1"/>
<circle cx="654.3" cy="502.2" r="3.65" fill="#2b87e3" stroke="#fff" stroke-width="1.1"/>
<circle cx="610.3" cy="535.4" r="3.65" fill="#2b87e3" stroke="#fff" stroke-width="1.1"/>
<circle cx="572.1" cy="498.1" r="3.65" fill="#2b87e3" stroke="#fff" stroke-width="1.1"/>
<circle cx="593.5" cy="503.5" r="3.65" fill="#2b87e3" stroke="#fff" stroke-width="1.1"/>
<circle cx="541.4" cy="503.2" r="3.65" fill="#2b87e3" stroke="#fff" stroke-width="1.1"/>
<circle cx="546.2" cy="504.2" r="3.65" fill="#2b87e3" stroke="#fff" stroke-width="1.1"/>
<circle cx="530.0" cy="557.4" r="3.65" fill="#2b87e3" stroke="#fff" stroke-width="1.1"/>
<circle cx="537.6" cy="525.0" r="3.65" fill="#2b87e3" stroke="#fff" stroke-width="1.1"/>
<circle cx="542.0" cy="510.4" r="3.65" fill="#2b87e3" stroke="#fff" stroke-width="1.1"/>
<circle cx="516.9" cy="524.2" r="3.65" fill="#d94a06" stroke="#fff" stroke-width="1.1"/>
<circle cx="517.0" cy="528.2" r="3.65" fill="#d94a06" stroke="#fff" stroke-width="1.1"/>
<circle cx="539.3" cy="518.7" r="3.65" fill="#d94a06" stroke="#fff" stroke-width="1.1"/>
<circle cx="549.0" cy="515.3" r="3.65" fill="#d94a06" stroke="#fff" stroke-width="1.1"/>
<circle cx="554.3" cy="517.6" r="3.65" fill="#d94a06" stroke="#fff" stroke-width="1.1"/>
<circle cx="580.2" cy="520.4" r="3.65" fill="#d94a06" stroke="#fff" stroke-width="1.1"/>
<circle cx="576.4" cy="527.2" r="3.65" fill="#d94a06" stroke="#fff" stroke-width="1.1"/>
<circle cx="544.0" cy="543.0" r="3.65" fill="#d94a06" stroke="#fff" stroke-width="1.1"/>
<circle cx="532.7" cy="523.0" r="3.65" fill="#d94a06" stroke="#fff" stroke-width="1.1"/>
<circle cx="532.7" cy="528.7" r="3.65" fill="#d94a06" stroke="#fff" stroke-width="1.1"/>
<text x="68.7" y="497.3" font-size="12.8" text-anchor="middle" font-weight="normal" fill="#000" stroke="#000" stroke-width="0.15" >ARSA</text>
<text x="184.3" y="478.9" font-size="12.8" text-anchor="middle" font-weight="normal" fill="#000" stroke="#000" stroke-width="0.15" letter-spacing="-0.35">PACA</text>
<text x="138.4" y="537.6" font-size="12.8" text-anchor="middle" font-weight="normal" fill="#000" stroke="#000" stroke-width="0.15" >NIST</text>
<text x="191.0" y="568.6" font-size="12.8" text-anchor="middle" font-weight="normal" fill="#000" stroke="#000" stroke-width="0.15" >ARST</text>
<text x="154.1" y="618.0" font-size="12.8" text-anchor="middle" font-weight="normal" fill="#000" stroke="#000" stroke-width="0.15" >ARGR</text>
<text x="310.3" y="480.6" font-size="12.8" text-anchor="middle" font-weight="normal" fill="#000" stroke="#000" stroke-width="0.15" >DOVA</text>
<text x="284.8" y="506.1" font-size="12.8" text-anchor="middle" font-weight="normal" fill="#000" stroke="#000" stroke-width="0.15" >PISA</text>
<text x="247.9" y="518.6" font-size="12.8" text-anchor="middle" font-weight="normal" fill="#000" stroke="#000" stroke-width="0.15" >PAHE</text>
<text x="268.6" y="579.8" font-size="12.8" text-anchor="middle" font-weight="normal" fill="#000" stroke="#000" stroke-width="0.15" >CHSA</text>
<text x="386.2" y="513.1" font-size="12.8" text-anchor="middle" font-weight="normal" fill="#000" stroke="#000" stroke-width="0.15" >ARCI</text>
<text x="416.2" y="523.8" font-size="12.8" text-anchor="middle" font-weight="normal" fill="#000" stroke="#000" stroke-width="0.15" >ARSM</text>
<text x="513.8" y="504.5" font-size="12.8" text-anchor="middle" font-weight="normal" fill="#000" stroke="#000" stroke-width="0.15" >LECI</text>
<text x="555.0" y="494.5" font-size="12.8" text-anchor="middle" font-weight="normal" fill="#000" stroke="#000" stroke-width="0.15" >SACO</text>
<text x="536.9" y="514.4" font-size="12.8" text-anchor="middle" font-weight="normal" fill="#000" stroke="#000" stroke-width="0.15" >ARFL</text>
<text x="579.4" y="540.0" font-size="12.8" text-anchor="middle" font-weight="normal" fill="#000" stroke="#000" stroke-width="0.15" >THST</text>
<text x="631.2" y="612.3" font-size="12.5" text-anchor="middle" font-weight="normal" fill="#000" stroke="#000" stroke-width="0.15" >stress = 0.14</text>
<text x="76.0" y="682.6" font-size="15.0" text-anchor="start" font-weight="normal" fill="#000" stroke="#000" stroke-width="0.15" >Location</text>
<circle cx="152.8" cy="677.8" r="2.9" fill="#64e696"/>
<text x="171.8" y="682.0" font-size="12.7" text-anchor="start" font-weight="normal" fill="#000" stroke="#000" stroke-width="0.15" >Jago Lagoon</text>
<circle cx="263.7" cy="677.8" r="2.9" fill="#2b87e3"/>
<text x="283.2" y="682.0" font-size="12.7" text-anchor="start" font-weight="normal" fill="#000" stroke="#000" stroke-width="0.15" >Kaktovik Lagoon</text>
<circle cx="395.1" cy="677.8" r="2.9" fill="#d94a06"/>
<text x="414.0" y="682.0" font-size="12.7" text-anchor="start" font-weight="normal" fill="#000" stroke="#000" stroke-width="0.15" >Simpson Lagoon</text>
<circle cx="527.8" cy="677.8" r="2.9" fill="#c853e0"/>
<text x="547.0" y="682.0" font-size="12.7" text-anchor="start" font-weight="normal" fill="#000" stroke="#000" stroke-width="0.15" >Stefansson Sound</text>
</svg>
</body></html>
